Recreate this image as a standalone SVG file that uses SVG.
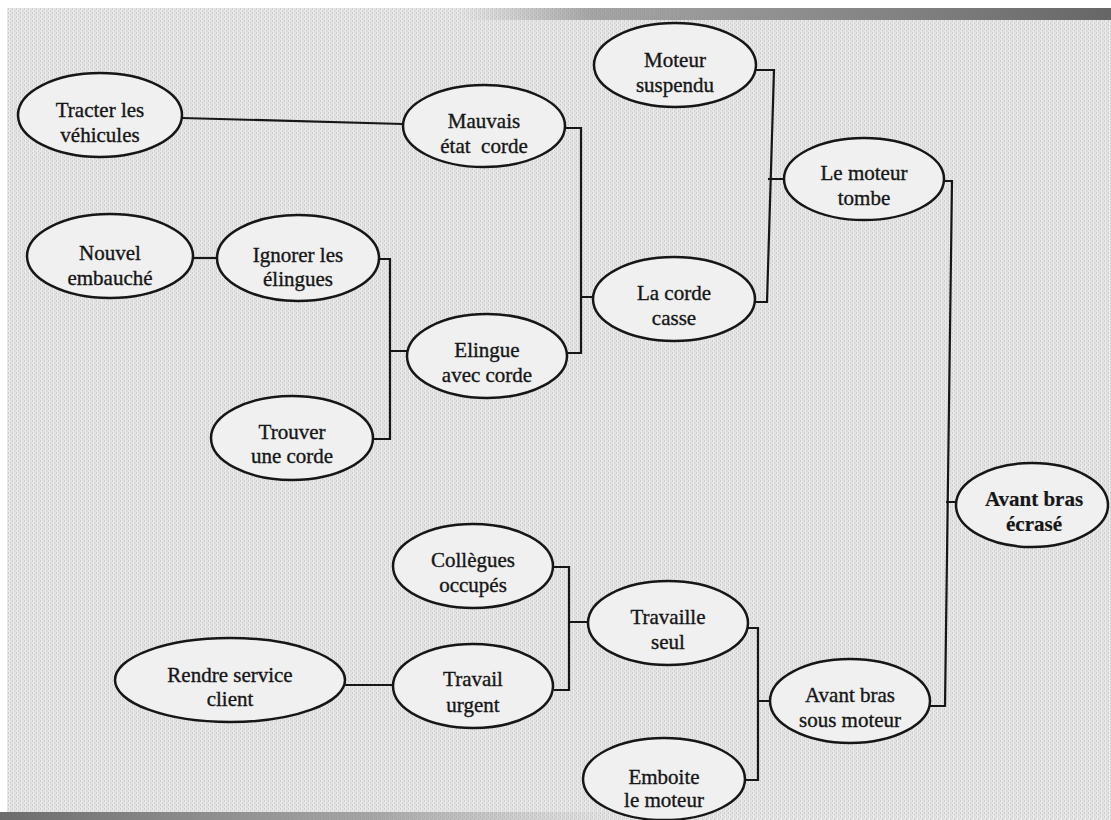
<svg xmlns="http://www.w3.org/2000/svg" width="1111" height="820" viewBox="0 0 1111 820">
<defs>
<pattern id="scan" width="4" height="4" patternUnits="userSpaceOnUse">
<rect width="4" height="4" fill="#e3e3e3"/>
<rect x="0" y="0" width="1" height="2" fill="#cdcdcd"/>
<rect x="2" y="2" width="1" height="2" fill="#d2d2d2"/>
<rect x="1" y="0" width="1" height="4" fill="#ececec"/>
</pattern>
<linearGradient id="topband" x1="0" y1="0" x2="1" y2="0">
<stop offset="0" stop-color="#9a9a9a" stop-opacity="0"/>
<stop offset="0.2" stop-color="#8a8a8a" stop-opacity="0.7"/>
<stop offset="1" stop-color="#666666"/>
</linearGradient>
<linearGradient id="botband" x1="0" y1="0" x2="1" y2="0">
<stop offset="0" stop-color="#6c6c6c"/>
<stop offset="0.6" stop-color="#8a8a8a" stop-opacity="0.7"/>
<stop offset="1" stop-color="#9a9a9a" stop-opacity="0"/>
</linearGradient>
</defs>
<style>
.n ellipse{fill:#f0f0f0;stroke:#161616;stroke-width:2.5}
.n text{font-family:"Liberation Serif","Times New Roman",serif;font-size:21px;fill:#161616;stroke:#161616;stroke-width:0.35;text-anchor:middle}
.b text{font-weight:bold;stroke-width:0.2}
#connectors path{fill:none;stroke:#161616;stroke-width:2.2}
</style>
<rect width="1111" height="820" fill="#ffffff"/>
<rect x="7" y="8" width="1104" height="812" fill="url(#scan)"/>
<rect x="460" y="8" width="651" height="12" fill="url(#topband)"/>
<rect x="0" y="812" width="620" height="8" fill="url(#botband)"/>

<g id="connectors">
<path d="M182,118 L403,124"/>
<path d="M193,258 H217"/>
<path d="M379,259 H390 V439 H372 M390,351 H407"/>
<path d="M565,128 H581 V353 H567 M581,297 H593"/>
<path d="M756,70 H774 L767,302 H754 M768,179 H784"/>
<path d="M944,181 H952 L945,706 H930 M946,502 H956"/>
<path d="M345,685 H393"/>
<path d="M553,567 H569 V690 H554 M569,622 H588"/>
<path d="M748,628 H758 V780 H745 M758,701 H770"/>
</g>

<g id="tracter" class="n"><ellipse cx="100" cy="115" rx="82" ry="42"/><text x="100" y="117">Tracter les</text><text x="100" y="142">véhicules</text></g>
<g id="mauvais" class="n"><ellipse cx="484" cy="126" rx="81" ry="41"/><text x="484" y="128">Mauvais</text><text x="484" y="153" xml:space="preserve">état  corde</text></g>
<g id="moteur-suspendu" class="n"><ellipse cx="675" cy="65" rx="81" ry="42"/><text x="675" y="67">Moteur</text><text x="675" y="92">suspendu</text></g>
<g id="moteur-tombe" class="n"><ellipse cx="864" cy="179" rx="80" ry="41"/><text x="864" y="180">Le moteur</text><text x="864" y="205">tombe</text></g>
<g id="nouvel" class="n"><ellipse cx="110" cy="256" rx="83" ry="42"/><text x="110" y="260">Nouvel</text><text x="110" y="285">embauché</text></g>
<g id="ignorer" class="n"><ellipse cx="298" cy="258" rx="81" ry="43"/><text x="298" y="262">Ignorer les</text><text x="298" y="286">élingues</text></g>
<g id="corde-casse" class="n"><ellipse cx="674" cy="299" rx="81" ry="42"/><text x="674" y="300">La corde</text><text x="674" y="325">casse</text></g>
<g id="elingue" class="n"><ellipse cx="487" cy="356" rx="80" ry="42"/><text x="487" y="357">Elingue</text><text x="487" y="382">avec corde</text></g>
<g id="trouver" class="n"><ellipse cx="292" cy="438" rx="81" ry="42"/><text x="292" y="439">Trouver</text><text x="292" y="463">une corde</text></g>
<g id="ecrase" class="n b"><ellipse cx="1032" cy="505" rx="76" ry="42"/><text x="1034" y="506">Avant bras</text><text x="1034" y="531">écrasé</text></g>
<g id="collegues" class="n"><ellipse cx="473" cy="566" rx="80" ry="42"/><text x="473" y="567">Collègues</text><text x="473" y="592">occupés</text></g>
<g id="travaille" class="n"><ellipse cx="668" cy="623" rx="80" ry="42"/><text x="668" y="624">Travaille</text><text x="668" y="649">seul</text></g>
<g id="rendre" class="n"><ellipse cx="230" cy="680" rx="115" ry="42"/><text x="230" y="682">Rendre service</text><text x="230" y="706">client</text></g>
<g id="urgent" class="n"><ellipse cx="473" cy="686" rx="80" ry="42"/><text x="473" y="686">Travail</text><text x="473" y="712">urgent</text></g>
<g id="sous-moteur" class="n"><ellipse cx="850" cy="701" rx="80" ry="42"/><text x="850" y="702">Avant bras</text><text x="850" y="727">sous moteur</text></g>
<g id="emboite" class="n"><ellipse cx="664" cy="779" rx="81" ry="41"/><text x="664" y="784">Emboite</text><text x="664" y="807">le moteur</text></g>
</svg>
